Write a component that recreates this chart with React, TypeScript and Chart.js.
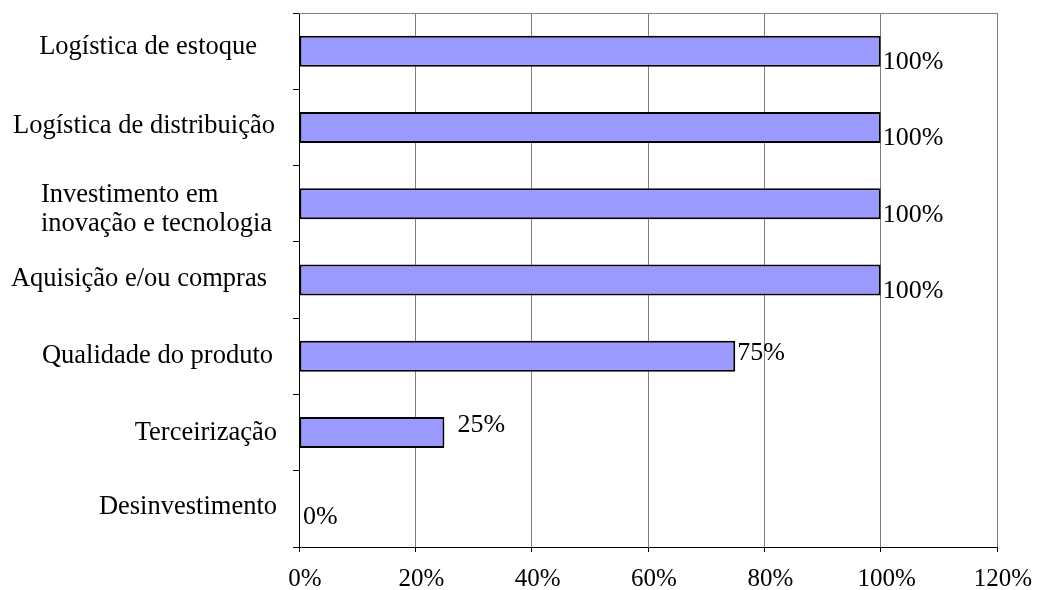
import React, { useEffect, useRef } from "react";
import { Chart, registerables } from "chart.js";

Chart.register(...registerables);

const categories: (string | string[])[] = [
  "Logística de estoque",
  "Logística de distribuição",
  ["Investimento em", "inovação e tecnologia"],
  "Aquisição e/ou compras",
  "Qualidade do produto",
  "Terceirização",
  "Desinvestimento",
];
const values = [100, 100, 100, 100, 75, 25, 0];
const xTickValues = [0, 20, 40, 60, 80, 100, 120];

// label placement styles (pixel nudges, as in the original)
const catDx = [-20, -2, -5, -10, -4, 0, 0];
const catDy = [-4, -1, 6, -1, 0, 0, -2];
const valDx = [2, 2, 2, 2, 2, 13, 4];
const valDy = [11, 11, 11, 11, -3, -7, 8];

const FONT = '"Liberation Serif", "Times New Roman", serif';

export default function App() {
  const ref = useRef<HTMLCanvasElement | null>(null);
  useEffect(() => {
    document.body.style.margin = "0";
    const ctx = ref.current!.getContext("2d")!;
    const labelsPlugin = {
      id: "customLabels",
      afterDraw(chart: any) {
        const c = chart.ctx;
        const area = chart.chartArea;
        const yScale = chart.scales.y;
        c.save();
        // top frame line
        c.strokeStyle = "#808080";
        c.lineWidth = 1;
        c.beginPath();
        c.moveTo(area.left, area.top + 0.5);
        c.lineTo(area.right, area.top + 0.5);
        c.stroke();
        // category labels
        c.fillStyle = "#000";
        c.font = `26.5px ${FONT}`;
        c.textBaseline = "middle";
        const right = area.left - 22;
        categories.forEach((lab, i) => {
          const yc = yScale.getPixelForValue(i) + catDy[i];
          const rx = right + catDx[i];
          if (Array.isArray(lab)) {
            const w = Math.max(...lab.map((s) => c.measureText(s).width));
            const lh = 29;
            c.textAlign = "left";
            lab.forEach((s, j) => {
              c.fillText(s, rx - w, yc + (j - (lab.length - 1) / 2) * lh);
            });
          } else {
            c.textAlign = "right";
            c.fillText(lab, rx, yc);
          }
        });
        // value labels
        const meta = chart.getDatasetMeta(0);
        c.font = `26px ${FONT}`;
        c.textAlign = "left";
        meta.data.forEach((el: any, i: number) => {
          c.fillText(values[i] + "%", el.x + valDx[i], el.y + valDy[i]);
        });
        c.restore();
      },
    };
    const chart = new Chart(ctx, {
      type: "bar",
      data: {
        labels: categories as any,
        datasets: [
          {
            data: values,
            backgroundColor: "#9999FF",
            borderColor: "#000000",
            borderWidth: 2,
            borderSkipped: false,
            barPercentage: 0.406,
            categoryPercentage: 1,
          },
        ],
      },
      options: {
        indexAxis: "y",
        animation: false,
        responsive: true,
        maintainAspectRatio: false,
        layout: { padding: { left: 293, right: 40, top: 13, bottom: 0 } },
        plugins: { legend: { display: false }, tooltip: { enabled: false } },
        scales: {
          x: {
            type: "linear",
            min: 0,
            max: 120,
            afterBuildTicks: (scale: any) => {
              scale.ticks = xTickValues.map((v) => ({ value: v }));
            },
            afterFit: (scale: any) => {
              scale.paddingRight = 0;
              scale.paddingLeft = 0;
            },
            ticks: {
              color: "#000",
              font: { family: FONT, size: 25, lineHeight: 1 },
              padding: 14.5,
              labelOffset: 6,
              callback: (v: any) => v + "%",
            },
            grid: {
              color: "#808080",
              tickColor: "#000",
              tickLength: 5,
              lineWidth: 1,
            },
            border: { display: true, color: "#000", width: 1 },
          },
          y: {
            type: "category",
            offset: true,
            ticks: { display: false },
            grid: {
              display: true,
              drawOnChartArea: false,
              drawTicks: true,
              tickLength: 6,
              offset: true,
              color: "#000",
              tickColor: "#000",
            },
            border: { display: true, color: "#000", width: 1 },
          },
        },
      },
      plugins: [labelsPlugin],
    });
    return () => chart.destroy();
  }, []);
  return (
    <div style={{ position: "fixed", left: 0, top: 0, width: 1037, height: 606, background: "#fff" }}>
      <canvas ref={ref} />
    </div>
  );
}
